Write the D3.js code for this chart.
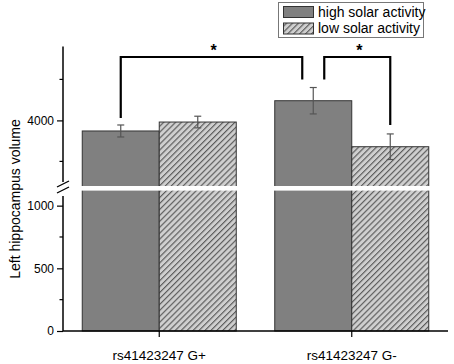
<!DOCTYPE html>
<html><head><meta charset="utf-8">
<script src="https://cdn.jsdelivr.net/npm/d3@7"></script>
<style>body{margin:0;background:#fff}svg{display:block}text{font-family:"Liberation Sans",Arial,sans-serif}</style>
</head><body><div id="chart"></div>
<script>
const categories = ["rs41423247 G+", "rs41423247 G-"];
const seriesNames = ["high solar activity", "low solar activity"];
const highValues = [3871, 4240];
const highErrors = [73, 161];
const lowValues = [3980, 3679];
const lowErrors = [71, 156];
const lowerTicks = [0, 500, 1000];
const lowerMinor = [250, 750];
const upperTicks = [4000];
const upperMinor = [3500, 4500];
const comparisons = [
  {from: [0, 0], to: [1, 0], label: "*"},
  {from: [1, 0], to: [1, 1], label: "*"}
];

const W = 454, H = 364;
const svg = d3.select("#chart").append("svg").attr("width", W).attr("height", H);
const defs = svg.append("defs");
const pat = defs.append("pattern").attr("id", "hatch").attr("patternUnits", "userSpaceOnUse")
  .attr("width", 4.2).attr("height", 4.2).attr("patternTransform", "rotate(45)");
pat.append("rect").attr("width", 4.2).attr("height", 4.2).attr("fill", "#cfcfcf");
pat.append("line").attr("x1", 0.6).attr("y1", 0).attr("x2", 0.6).attr("y2", 4.2)
  .attr("stroke", "#555").attr("stroke-width", 1.1);

const x0 = 63, x1 = 448, baseY = 331;
const x = d3.scaleBand().domain(categories).range([x0, x1]).paddingInner(0.2).paddingOuter(0.1);
const xs = d3.scaleBand().domain([0, 1]).range([0, x.bandwidth()]);
const lower = d3.scaleLinear().domain([0, 1120]).range([baseY, 190.6]);
const upper = d3.scaleLinear().domain([3200, 4900]).range([186, 46.6]);
const gapTop = upper(3200), gapBot = lower(1120);
const fmt = d3.format("d");

const series = [
  {name: seriesNames[0], values: highValues, errs: highErrors, fill: "#808080"},
  {name: seriesNames[1], values: lowValues, errs: lowErrors, fill: "url(#hatch)"}
];

// bars
series.forEach((s, si) => {
  const g = svg.append("g");
  categories.forEach((c, ci) => {
    const bx = x(c) + xs(si);
    g.append("rect").attr("x", bx).attr("y", upper(s.values[ci])).attr("width", xs.bandwidth())
      .attr("height", baseY - upper(s.values[ci])).attr("fill", s.fill)
      .attr("stroke", "#333").attr("stroke-width", 1);
  });
});
// break gap
svg.append("rect").attr("x", x0 + 1).attr("y", gapTop).attr("width", x1 - x0).attr("height", gapBot - gapTop).attr("fill", "#fff");

// error bars
series.forEach((s, si) => {
  categories.forEach((c, ci) => {
    const cx = x(c) + xs(si) + xs.bandwidth() / 2;
    const yt = upper(s.values[ci] + s.errs[ci]), yb = upper(s.values[ci] - s.errs[ci]);
    const g = svg.append("g").attr("stroke", "#555").attr("stroke-width", 1.2);
    g.append("line").attr("x1", cx).attr("x2", cx).attr("y1", yt).attr("y2", yb);
    g.append("line").attr("x1", cx - 3.5).attr("x2", cx + 3.5).attr("y1", yt).attr("y2", yt);
    g.append("line").attr("x1", cx - 3.5).attr("x2", cx + 3.5).attr("y1", yb).attr("y2", yb);
  });
});

// y axis lower
const axLower = svg.append("g").attr("transform", `translate(${x0},0)`)
  .call(d3.axisLeft(lower).tickValues(lowerTicks).tickFormat(fmt).tickSize(6).tickPadding(3));
axLower.select(".domain").remove();
axLower.append("line").attr("x1", 0).attr("x2", 0).attr("y1", 196).attr("y2", baseY).attr("stroke", "#000").attr("stroke-width", 1.5);
axLower.selectAll(".minor").data(lowerMinor).join("line").attr("x1", -3.5).attr("x2", 0)
  .attr("y1", d => lower(d)).attr("y2", d => lower(d)).attr("stroke", "#000").attr("stroke-width", 1.2);

// y axis upper
const axUpper = svg.append("g").attr("transform", `translate(${x0},0)`)
  .call(d3.axisLeft(upper).tickValues(upperTicks).tickFormat(fmt).tickSize(6).tickPadding(3));
axUpper.select(".domain").remove();
axUpper.append("line").attr("x1", 0).attr("x2", 0).attr("y1", upper(4900)).attr("y2", 182).attr("stroke", "#000").attr("stroke-width", 1.5);
axUpper.selectAll(".minor").data(upperMinor).join("line").attr("x1", -3.5).attr("x2", 0)
  .attr("y1", d => upper(d)).attr("y2", d => upper(d)).attr("stroke", "#000").attr("stroke-width", 1.2);

[axLower, axUpper].forEach(a => {
  a.selectAll(".tick line").attr("stroke", "#000").attr("stroke-width", 1.2);
  a.selectAll(".tick text").attr("font-size", 12).attr("fill", "#000").attr("font-family", '"Liberation Sans",Arial,sans-serif');
});

// break marks
const bm = svg.append("g").attr("stroke", "#000").attr("stroke-width", 1.3);
bm.append("line").attr("x1", 57).attr("y1", 187).attr("x2", 69).attr("y2", 181);
bm.append("line").attr("x1", 57).attr("y1", 193).attr("x2", 69).attr("y2", 187);

// x axis
const axX = svg.append("g").attr("transform", `translate(0,${baseY})`)
  .call(d3.axisBottom(x).tickSize(6).tickPadding(13));
axX.select(".domain").attr("d", `M${x0},0H${x1}`).attr("stroke", "#000").attr("stroke-width", 1.5);
axX.selectAll(".tick line").attr("stroke", "#000").attr("stroke-width", 1.2);
axX.selectAll(".tick text").attr("font-size", 13.5).attr("fill", "#000").attr("font-family", '"Liberation Sans",Arial,sans-serif');

// y label
svg.append("text").attr("transform", "translate(20,199) rotate(-90)").attr("text-anchor", "middle")
  .attr("font-size", 14).text("Left hippocampus volume");

// significance brackets
const topY = 57;
function barCenter(ci, si) { return x(categories[ci]) + xs(si) + xs.bandwidth() / 2; }
function errTop(ci, si) { const s = series[si]; return upper(s.values[ci] + s.errs[ci]); }
const offsets = [[0, -11], [11, 0]];
comparisons.forEach((cmp, k) => {
  const xa = barCenter(...cmp.from) + offsets[k][0];
  const xb = barCenter(...cmp.to) + offsets[k][1];
  const ya = k === 0 ? errTop(...cmp.from) - 7 : errTop(1, 0) - 8;
  const yb = k === 0 ? errTop(1, 0) - 8 : errTop(...cmp.to) - 9;
  svg.append("path").attr("d", `M${xa},${ya}V${topY}H${xb}V${yb}`).attr("fill", "none")
    .attr("stroke", "#000").attr("stroke-width", 2.2);
  svg.append("text").attr("x", (xa + xb) / 2 + 2).attr("y", 56).attr("text-anchor", "middle")
    .attr("font-size", 16).attr("font-weight", "bold").text(cmp.label);
});

// legend
const lg = svg.append("g");
lg.append("rect").attr("x", 278.5).attr("y", 2.5).attr("width", 145).attr("height", 35)
  .attr("fill", "#fff").attr("stroke", "#777").attr("stroke-width", 1);
series.forEach((s, i) => {
  lg.append("rect").attr("x", 283.5).attr("y", 6.5 + i * 16.5).attr("width", 30).attr("height", 11)
    .attr("fill", s.fill).attr("stroke", "#333").attr("stroke-width", 1);
  lg.append("text").attr("x", 318).attr("y", 17 + i * 16).attr("font-size", 14).text(s.name);
});
</script></body></html>
